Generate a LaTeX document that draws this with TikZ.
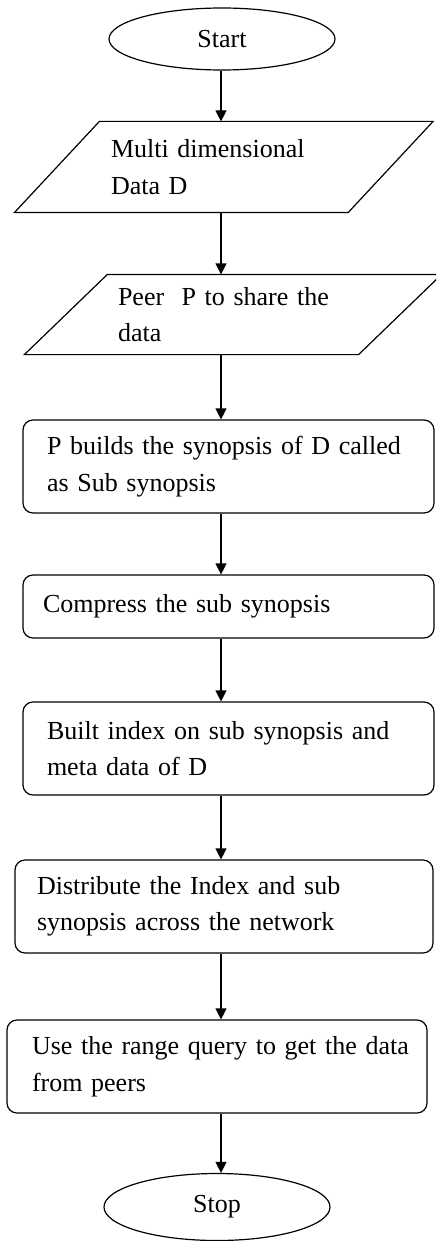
\documentclass[tikz,border=0pt]{standalone}
\usepackage{fontspec}
\setmainfont{Liberation Serif}
\usetikzlibrary{arrows.meta}
\usetikzlibrary{shapes.geometric}

\begin{document}
\begin{tikzpicture}[x=1pt, y=-1pt, line width=1.2pt,
  every node/.style={font=\fontsize{26pt}{36.5pt}\selectfont},
  terminal/.style={draw, ellipse, minimum width=226pt, minimum height=62pt, inner sep=0pt},
  process/.style={draw, rounded corners=10pt, minimum height=93pt, align=left, inner ysep=0pt},
  io/.style={align=left, inner ysep=0pt},
  flow/.style={-{Triangle[length=11pt,width=11pt]}}]
 \useasboundingbox (0,0) rectangle (436,1241);
 \clip (0,0) rectangle (436,1241);
 \coordinate (axis) at (221,0);

 %terminals and steps
 \node[terminal] (start) at (222,39) {Start};
 \node[io, text width=225.5pt, inner xsep=53.5pt, minimum height=90pt] (data) at (223.75,167) {Multi dimensional\\Data D};
 \node[io, text width=230pt, inner xsep=51.5pt, minimum height=79pt] (share) at (233,314.5) {Peer\ \ P to share the\\data};
 \node[process, text width=363pt, inner xsep=24pt] (build) at (228.5,466.5) {P builds the synopsis of D called\\as Sub synopsis};
 \node[process, text width=371pt, inner xsep=20pt, minimum height=63pt] (compress) at (228.5,606.5) {Compress the sub synopsis};
 \node[process, text width=363pt, inner xsep=24pt] (index) at (228.5,748.5) {Built index on sub synopsis and\\meta data of D};
 \node[process, text width=374pt, inner xsep=22pt] (spread) at (224,906.5) {Distribute the Index and sub\\synopsis across the network};
 \node[process, text width=370pt, inner xsep=25pt] (query) at (217,1066.5) {\mbox{Use the range query to get the data}\\from peers};
 \node[terminal, minimum height=67pt] (stop) at (217,1207) {Stop};

 %parallelograms round the input nodes
 \foreach \n/\s in {data/42.5, share/41.5}
  \draw ([xshift=\s pt]\n.north west) -- ([xshift=\s pt]\n.north east) -- ([xshift=-\s pt]\n.south east) -- ([xshift=-\s pt]\n.south west) -- cycle;

 %arrows
 \foreach \a/\b in {start/data, data/share, share/build, build/compress, compress/index, index/spread, spread/query, query/stop}
  \draw[flow] (\a.south -| axis) -- (\b.north -| axis);
\end{tikzpicture}
\end{document}
